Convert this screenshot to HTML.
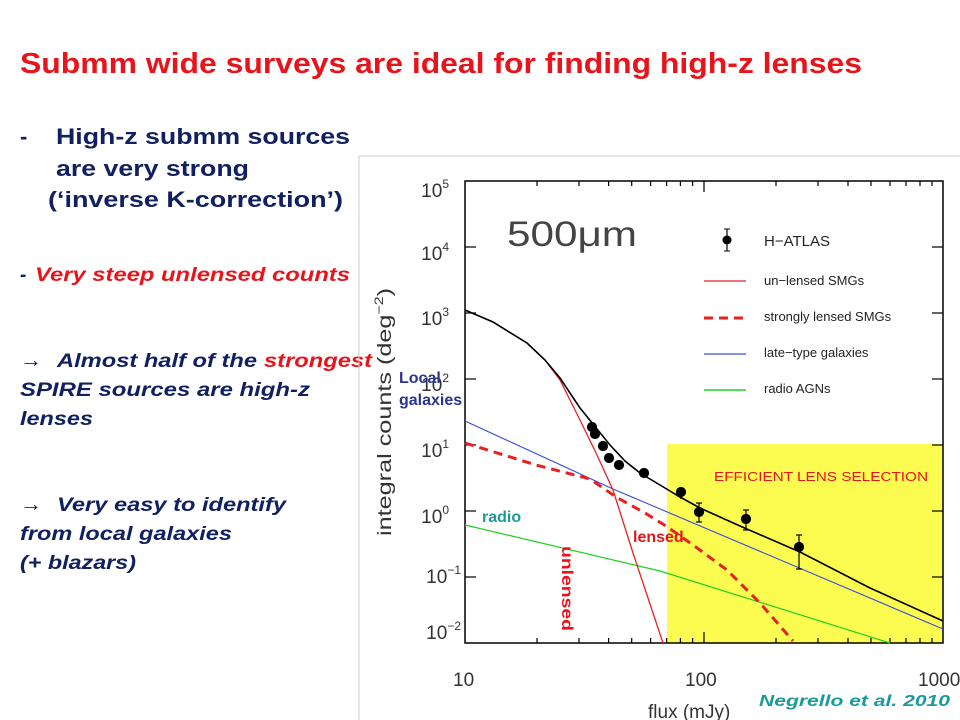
<!DOCTYPE html>
<html><head><meta charset="utf-8"><style>
html,body{margin:0;padding:0;background:#fff;}
svg{display:block;}
text{font-family:"Liberation Sans",Arial,sans-serif;}
</style></head><body>
<svg width="960" height="720" viewBox="0 0 960 720" xmlns="http://www.w3.org/2000/svg">
<rect width="960" height="720" fill="#fff"/>
<text x="20" y="73" font-size="29" font-weight="bold" fill="#e8141c" textLength="842" lengthAdjust="spacingAndGlyphs">Submm wide surveys are ideal for finding high-z lenses</text>
<g fill="#112060" font-weight="bold" font-size="22">
<text x="20" y="144">-</text>
<text x="56" y="144" textLength="294" lengthAdjust="spacingAndGlyphs">High-z submm sources</text>
<text x="56" y="176" textLength="193" lengthAdjust="spacingAndGlyphs">are very strong</text>
<text x="48" y="207" textLength="295" lengthAdjust="spacingAndGlyphs">(‘inverse K-correction’)</text>
</g>
<g font-weight="bold" font-style="italic" font-size="19">
<text x="20" y="281" fill="#112060">-</text>
<text x="35" y="281" fill="#e8141c" textLength="315" lengthAdjust="spacingAndGlyphs">Very steep unlensed counts</text>
<text x="20" y="367" fill="#112060" font-style="normal" font-weight="normal" font-size="22">→</text>
<text x="57" y="367" fill="#112060" textLength="200" lengthAdjust="spacingAndGlyphs">Almost half of the</text>
<text x="264" y="367" fill="#e8141c" textLength="108" lengthAdjust="spacingAndGlyphs">strongest</text>
<text x="20" y="396" fill="#112060" textLength="290" lengthAdjust="spacingAndGlyphs">SPIRE sources are high-z</text>
<text x="20" y="425" fill="#112060" textLength="73" lengthAdjust="spacingAndGlyphs">lenses</text>
<text x="20" y="511" fill="#112060" font-style="normal" font-weight="normal" font-size="22">→</text>
<text x="57" y="511" fill="#112060" textLength="229" lengthAdjust="spacingAndGlyphs">Very easy to identify</text>
<text x="20" y="540" fill="#112060" textLength="212" lengthAdjust="spacingAndGlyphs">from local galaxies</text>
<text x="20" y="569" fill="#112060" textLength="116" lengthAdjust="spacingAndGlyphs">(+ blazars)</text>
</g>
<line x1="359" y1="156" x2="960" y2="156" stroke="#ccc" stroke-width="1"/>
<line x1="359" y1="156" x2="359" y2="720" stroke="#ccc" stroke-width="1"/>
<rect x="667" y="444" width="276" height="199" fill="#fcfc50"/>
<text x="714" y="481" font-size="13" fill="#e8141c" textLength="214" lengthAdjust="spacingAndGlyphs">EFFICIENT LENS SELECTION</text>
<rect x="465" y="181" width="478" height="462" fill="none" stroke="#000" stroke-width="1.5"/>
<g stroke="#000" stroke-width="1.2">
<line x1="465" y1="247" x2="476" y2="247"/><line x1="943" y1="247" x2="932" y2="247"/>
<line x1="465" y1="313" x2="476" y2="313"/><line x1="943" y1="313" x2="932" y2="313"/>
<line x1="465" y1="379" x2="476" y2="379"/><line x1="943" y1="379" x2="932" y2="379"/>
<line x1="465" y1="445" x2="476" y2="445"/><line x1="943" y1="445" x2="932" y2="445"/>
<line x1="465" y1="511" x2="476" y2="511"/><line x1="943" y1="511" x2="932" y2="511"/>
<line x1="465" y1="577" x2="476" y2="577"/><line x1="943" y1="577" x2="932" y2="577"/>
<line x1="704" y1="643" x2="704" y2="632"/><line x1="704" y1="181" x2="704" y2="192"/>
<g id="mt">
<line x1="537" y1="643" x2="537" y2="638"/><line x1="579" y1="643" x2="579" y2="638"/><line x1="608.6" y1="643" x2="608.6" y2="638"/><line x1="631.7" y1="643" x2="631.7" y2="638"/><line x1="650.6" y1="643" x2="650.6" y2="638"/><line x1="666.6" y1="643" x2="666.6" y2="638"/><line x1="680.4" y1="643" x2="680.4" y2="638"/><line x1="692.6" y1="643" x2="692.6" y2="638"/>
<line x1="776" y1="643" x2="776" y2="638"/><line x1="818" y1="643" x2="818" y2="638"/><line x1="848" y1="643" x2="848" y2="638"/><line x1="871" y1="643" x2="871" y2="638"/><line x1="890" y1="643" x2="890" y2="638"/><line x1="906" y1="643" x2="906" y2="638"/><line x1="920" y1="643" x2="920" y2="638"/><line x1="932" y1="643" x2="932" y2="638"/>
</g>
<use href="#mt" transform="translate(0,824) scale(1,-1)"/>
</g>
<g font-size="19" fill="#333" text-anchor="end">
<text x="449" y="197">10<tspan font-size="12" dy="-9">5</tspan></text>
<text x="449" y="260">10<tspan font-size="12" dy="-9">4</tspan></text>
<text x="449" y="325">10<tspan font-size="12" dy="-9">3</tspan></text>
<text x="449" y="391">10<tspan font-size="12" dy="-9">2</tspan></text>
<text x="449" y="457">10<tspan font-size="12" dy="-9">1</tspan></text>
<text x="449" y="523">10<tspan font-size="12" dy="-9">0</tspan></text>
<text x="461" y="583">10<tspan font-size="12" dy="-9">−1</tspan></text>
<text x="461" y="639">10<tspan font-size="12" dy="-9">−2</tspan></text>
</g>
<g font-size="19" fill="#333">
<text x="453" y="686">10</text>
<text x="685" y="686">100</text>
<text x="918" y="686">1000</text>
<text x="648" y="718">flux (mJy)</text>
<text transform="translate(391,536) rotate(-90)" textLength="248" lengthAdjust="spacingAndGlyphs">integral counts (deg<tspan font-size="12" dy="-8">−2</tspan><tspan dy="8">)</tspan></text>
<text x="507" y="246" font-size="35" fill="#444" textLength="130" lengthAdjust="spacingAndGlyphs">500μm</text>
</g>
<g font-size="13" fill="#222">
<line x1="727" y1="229" x2="727" y2="251" stroke="#000" stroke-width="1.2"/>
<line x1="724" y1="229" x2="730" y2="229" stroke="#000"/><line x1="724" y1="251" x2="730" y2="251" stroke="#000"/>
<circle cx="727" cy="240" r="4.5" fill="#000"/>
<text x="764" y="246" font-size="15">H−ATLAS</text>
<line x1="704" y1="281" x2="746" y2="281" stroke="#e82020" stroke-width="1.3"/>
<text x="764" y="285">un−lensed SMGs</text>
<line x1="704" y1="318" x2="746" y2="318" stroke="#e82020" stroke-width="3" stroke-dasharray="9,6"/>
<text x="764" y="321">strongly lensed SMGs</text>
<line x1="704" y1="354" x2="746" y2="354" stroke="#3a4ae0" stroke-width="1.2"/>
<text x="764" y="357">late−type galaxies</text>
<line x1="704" y1="390" x2="746" y2="390" stroke="#20d020" stroke-width="1.5"/>
<text x="764" y="393">radio AGNs</text>
</g>
<polyline fill="none" stroke="#20d020" stroke-width="1.2" points="465,525 660,571 890,643"/>
<polyline fill="none" stroke="#3a4ae0" stroke-width="1.1" points="465,421 613,489 943,629"/>
<polyline fill="none" stroke="#e82020" stroke-width="3" stroke-dasharray="9,6" points="465,443 536,465 590,479 616,497 645,513 666,526 693,545 727,570 760,603 793,641"/>
<polyline fill="none" stroke="#e82020" stroke-width="1.3" points="465,310 493,322 527,343 545,360 560,380 580,420 597,455 613,490 633,553 648,598 663,643"/>
<polyline fill="none" stroke="#000" stroke-width="1.6" points="465,310 493,322 527,343 545,360 560,378 580,408 597,429 610,445 625,461 640,473 660,485 680,497 700,508 740,526 800,552 870,588 943,621"/>
<g fill="#000" stroke="#000" stroke-width="1.2">
<circle cx="592" cy="427" r="4.5"/><circle cx="595" cy="434" r="4.5"/><circle cx="603" cy="446" r="4.5"/><circle cx="609" cy="458" r="4.5"/><circle cx="619" cy="465" r="4.5"/><circle cx="644" cy="473" r="4.5"/>
<circle cx="681" cy="492" r="4.5"/><line x1="681" y1="488" x2="681" y2="499"/>
<circle cx="699" cy="512" r="4.5"/><line x1="699" y1="503" x2="699" y2="522"/><line x1="696" y1="503" x2="702" y2="503"/><line x1="696" y1="522" x2="702" y2="522"/>
<circle cx="746" cy="519" r="4.5"/><line x1="746" y1="510" x2="746" y2="530"/><line x1="743" y1="510" x2="749" y2="510"/><line x1="743" y1="530" x2="749" y2="530"/>
<circle cx="799" cy="547" r="4.5"/><line x1="799" y1="535" x2="799" y2="569"/><line x1="796" y1="535" x2="802" y2="535"/><line x1="796" y1="569" x2="802" y2="569"/>
</g>
<g font-weight="bold" font-size="16">
<text x="399" y="383" fill="#2d3592">Local</text>
<text x="399" y="405" fill="#2d3592">galaxies</text>
<text x="482" y="522" fill="#1a9a9a">radio</text>
<text x="633" y="542" fill="#e8141c">lensed</text>
<text transform="translate(562,546) rotate(90)" fill="#e8141c" textLength="85" lengthAdjust="spacingAndGlyphs">unlensed</text>
<text x="759" y="706" font-style="italic" fill="#1a9a9a" textLength="191" lengthAdjust="spacingAndGlyphs">Negrello et al. 2010</text>
</g>
</svg>
</body></html>
